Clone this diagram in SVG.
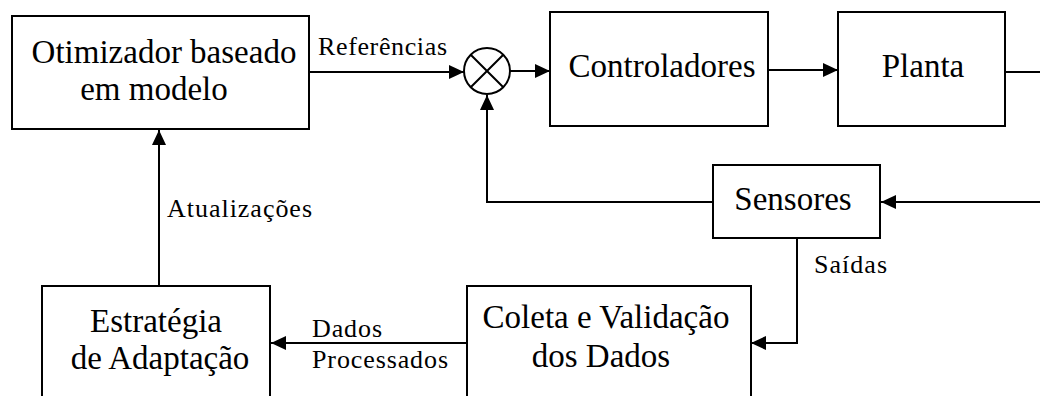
<svg xmlns="http://www.w3.org/2000/svg" width="1040" height="396" viewBox="0 0 1040 396">
<style>
.box{fill:#fff;stroke:#000;stroke-width:2}
.t{font-family:"Liberation Serif","Times New Roman",serif;font-size:33px;fill:#000;text-anchor:middle}
.l{font-family:"Liberation Serif","Times New Roman",serif;font-size:26px;fill:#000}
.c{fill:none;stroke:#000;stroke-width:2}
</style>
<defs>
<marker id="ah" markerUnits="userSpaceOnUse" markerWidth="16" markerHeight="14" refX="15" refY="7" orient="auto">
<path d="M0,0 L15,7 L0,14 z" fill="#000"/>
</marker>
</defs>
<rect width="1040" height="396" fill="#fff"/>
<g id="connectors">
<path class="c" d="M309,72 H464" marker-end="url(#ah)"/>
<path class="c" d="M510,71 H550" marker-end="url(#ah)"/>
<path class="c" d="M768,70 H838" marker-end="url(#ah)"/>
<path class="c" d="M1005,72 H1040"/>
<path class="c" d="M1040,202 H881" marker-end="url(#ah)"/>
<path class="c" d="M713,202 H487 V95" marker-end="url(#ah)"/>
<path class="c" d="M797,238 V343 H751" marker-end="url(#ah)"/>
<path class="c" d="M467,343 H271" marker-end="url(#ah)"/>
<path class="c" d="M159,286 V130" marker-end="url(#ah)"/>
<text class="l" x="318" y="55" textLength="129" lengthAdjust="spacing">Referências</text>
<text class="l" x="167" y="217" textLength="145" lengthAdjust="spacing">Atualizações</text>
<text class="l" x="814" y="273" textLength="73" lengthAdjust="spacing">Saídas</text>
<text class="l" x="312" y="337" textLength="70" lengthAdjust="spacing">Dados</text>
<text class="l" x="312" y="368" textLength="136" lengthAdjust="spacing">Processados</text>
</g>
<g id="otimizador">
<rect class="box" x="12" y="16" width="297" height="113"/>
<text class="t" x="164" y="63">Otimizador baseado</text>
<text class="t" x="154" y="100">em modelo</text>
</g>
<g id="somador">
<circle cx="487" cy="71" r="23" fill="#fff" stroke="#000" stroke-width="2"/>
<path class="c" d="M470.7,54.7 L503.3,87.3 M503.3,54.7 L470.7,87.3"/>
</g>
<g id="controladores">
<rect class="box" x="550" y="12" width="218" height="114"/>
<text class="t" x="662" y="77">Controladores</text>
</g>
<g id="planta">
<rect class="box" x="838" y="12" width="167" height="114"/>
<text class="t" x="923" y="77">Planta</text>
</g>
<g id="sensores">
<rect class="box" x="713" y="165" width="167" height="73"/>
<text class="t" x="793" y="210">Sensores</text>
</g>
<g id="coleta">
<rect class="box" x="467" y="286" width="284" height="120"/>
<text class="t" x="606" y="328">Coleta e Validação</text>
<text class="t" x="601" y="367">dos Dados</text>
</g>
<g id="estrategia">
<rect class="box" x="42" y="286" width="228" height="120"/>
<text class="t" x="156" y="332">Estratégia</text>
<text class="t" x="160" y="369">de Adaptação</text>
</g>
</svg>
